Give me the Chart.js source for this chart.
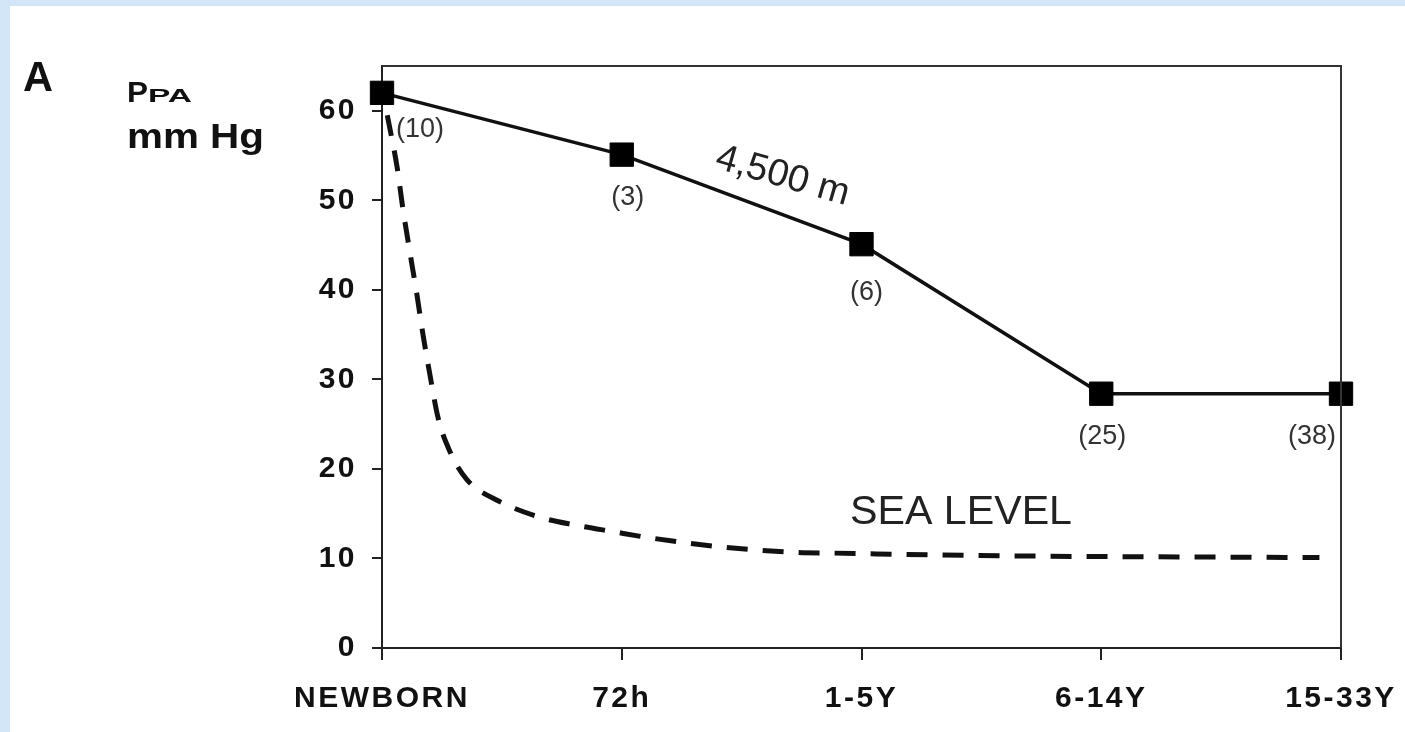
<!DOCTYPE html>
<html><head><meta charset="utf-8">
<script src="https://cdn.jsdelivr.net/npm/chart.js@4.4.1/dist/chart.umd.min.js"></script>
<style>
html,body{margin:0;padding:0;width:1405px;height:732px;overflow:hidden;background:#d3e6f8;}
#frame{position:absolute;left:10px;top:6px;width:1395px;height:726px;background:#fff;}
#c{position:absolute;left:0;top:0;}
</style></head><body>
<div id="frame"></div>
<canvas id="c" width="1405" height="732"></canvas>
<script>
const categories = ['NEWBORN', '72h', '1-5Y', '6-14Y', '15-33Y'];
const altitudeValues = [62, 55.1, 45.1, 28.4, 28.4];
const sampleSizes = [10, 3, 6, 25, 38];
const seaLevelX = [0.022, 0.063, 0.088, 0.117, 0.146, 0.171, 0.200, 0.234, 0.284, 0.354, 0.480, 0.659, 0.813, 0.963, 1.118, 1.41, 1.714, 1.88, 2.58, 3.91];
const seaLevelY = [59.5, 53.7, 48.9, 44.1, 39.4, 35.0, 30.5, 25.7, 21.9, 18.8, 16.5, 14.6, 13.7, 13.0, 12.3, 11.3, 10.7, 10.6, 10.3, 10.1];
const yTicks = [0, 10, 20, 30, 40, 50, 60];
const altitudeLabel = '4,500 m';
const seaLevelLabel = 'SEA LEVEL';

function drawText(ctx, text, x, y, font, opts) {
  opts = opts || {};
  ctx.save();
  ctx.font = font;
  ctx.fillStyle = opts.color || '#111';
  ctx.textAlign = opts.align || 'left';
  ctx.textBaseline = opts.baseline || 'alphabetic';
  const w = ctx.measureText(text).width;
  const sx = opts.width ? opts.width / w : 1;
  ctx.translate(x, y);
  if (opts.rotate) ctx.rotate(opts.rotate);
  ctx.scale(sx, 1);
  ctx.fillText(text, 0, 0);
  ctx.restore();
}

const countOffsets = [[38, 37], [6, 43], [5, 48], [1, 43], [-29, 43]];

const annotations = {
  id: 'annotations',
  beforeDraw(chart) { chart.ctx.letterSpacing = '2.5px'; },
  afterDraw(chart) {
    const ctx = chart.ctx;
    ctx.letterSpacing = '0px';
    const a = chart.chartArea;
    const xs = chart.scales.x, ys = chart.scales.y;
    ctx.save();
    ctx.strokeStyle = '#333';
    ctx.lineWidth = 2;
    ctx.beginPath();
    ctx.moveTo(a.left, a.top);
    ctx.lineTo(a.right, a.top);
    ctx.lineTo(a.right, a.bottom);
    ctx.stroke();
    ctx.restore();
    sampleSizes.forEach((n, i) => {
      const px = xs.getPixelForValue(i), py = ys.getPixelForValue(altitudeValues[i]);
      drawText(ctx, '(' + n + ')', px + countOffsets[i][0], py + countOffsets[i][1], '27px "Liberation Sans", Arial, sans-serif', {align: 'center', baseline: 'middle', color: '#333'});
    });
    const mx = (xs.getPixelForValue(1) + xs.getPixelForValue(2)) / 2;
    const my = (ys.getPixelForValue(altitudeValues[1]) + ys.getPixelForValue(altitudeValues[2])) / 2;
    drawText(ctx, altitudeLabel, mx + 38, my - 13, '38px "Liberation Sans", Arial, sans-serif', {align: 'center', rotate: 16 * Math.PI / 180, color: '#222'});
    drawText(ctx, seaLevelLabel, xs.getPixelForValue(1.952), ys.getPixelForValue(13.85), '40px "Liberation Sans", Arial, sans-serif', {width: 222, color: '#222'});
    drawText(ctx, 'A', 23, 91, 'bold 42px "Liberation Sans", Arial, sans-serif', {width: 30});
    drawText(ctx, 'P', 127, 102, 'bold 29px "Liberation Sans", Arial, sans-serif', {width: 21});
    drawText(ctx, 'PA', 148, 102, 'bold 19px "Liberation Sans", Arial, sans-serif', {width: 44});
    drawText(ctx, 'mm Hg', 127, 148, 'bold 35px "Liberation Sans", Arial, sans-serif', {width: 137});
  }
};

const tickFont = {family: '"Liberation Sans", Arial, sans-serif', size: 30, weight: 'bold'};

new Chart(document.getElementById('c'), {
  type: 'line',
  data: {
    datasets: [
      {
        label: altitudeLabel,
        data: categories.map((c, i) => ({x: i, y: altitudeValues[i]})),
        borderColor: '#111', borderWidth: 3.5,
        pointStyle: 'rect', pointRadius: 16.5, pointHoverRadius: 16.5,
        pointBackgroundColor: '#000', pointBorderColor: '#000', pointBorderWidth: 1,
        tension: 0, clip: false
      },
      {
        label: seaLevelLabel,
        data: seaLevelX.map((x, i) => ({x: x, y: seaLevelY[i]})),
        borderColor: '#111', borderWidth: 5, borderDash: [21, 15],
        pointRadius: 0, cubicInterpolationMode: 'monotone', fill: false, clip: false
      }
    ]
  },
  options: {
    responsive: false, animation: false, devicePixelRatio: 1,
    layout: {padding: {top: 66, right: 64, left: 0, bottom: 0}},
    plugins: {legend: {display: false}, tooltip: {enabled: false}},
    scales: {
      x: {
        type: 'linear', min: 0, max: 4,
        afterBuildTicks: s => { s.ticks = categories.map((c, i) => ({value: i})); },
        afterFit: s => { s.height = 84; s.paddingLeft = 0; s.paddingRight = 0; },
        ticks: {callback: v => categories[v], font: tickFont, color: '#111', padding: 21, maxRotation: 0, autoSkip: false},
        grid: {drawOnChartArea: false, tickLength: 12, color: '#222', lineWidth: 2},
        border: {color: '#222', width: 2}
      },
      y: {
        min: 0, max: 65,
        afterBuildTicks: s => { s.ticks = yTicks.map(v => ({value: v})); },
        afterFit: s => { s.width = 382; s.paddingTop = 0; s.paddingBottom = 0; },
        ticks: {font: tickFont, color: '#111', padding: 15},
        grid: {drawOnChartArea: false, tickLength: 10, color: '#222', lineWidth: 2},
        border: {color: '#222', width: 2}
      }
    }
  },
  plugins: [annotations]
});
</script>
</body></html>
